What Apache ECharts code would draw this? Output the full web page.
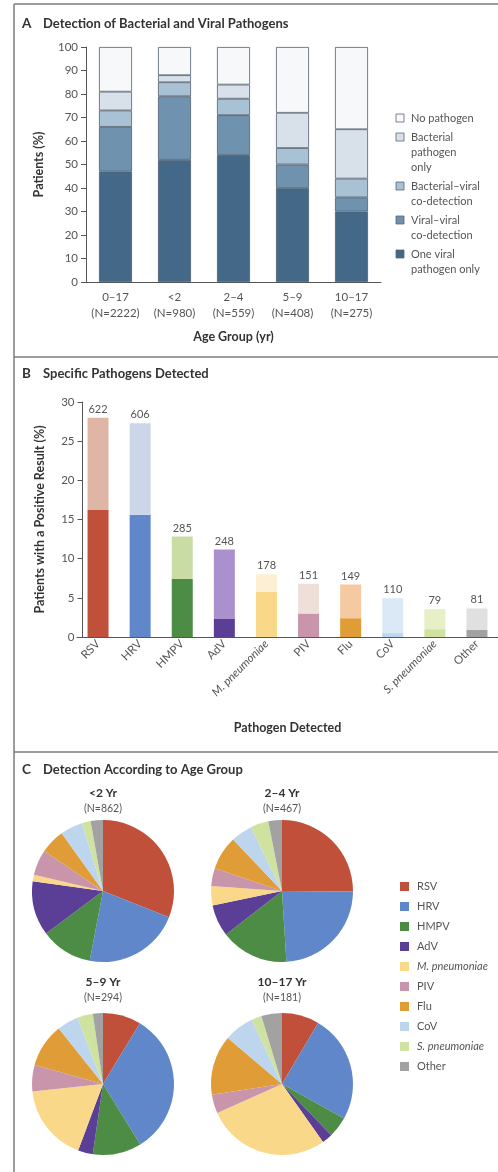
<!DOCTYPE html>
<html>
<head>
<meta charset="utf-8">
<script src="https://cdn.jsdelivr.net/npm/echarts@6/dist/echarts.min.js"></script>
<style>
  html, body { margin: 0; padding: 0; background: #ffffff; }
  #chart { width: 498px; height: 1172px; }
</style>
</head>
<body>
<div id="chart"></div>
<script>
// ---------- Panel A: detection outcome by age group (% of patients) ----------
const ageGroups = ['0–17\n(N=2222)', '<2\n(N=980)', '2–4\n(N=559)', '5–9\n(N=408)', '10–17\n(N=275)'];
const oneViral       = [47, 52, 54, 40, 30];
const viralViral     = [19, 27, 17, 10, 6];
const bacterialViral = [7, 6, 7, 7, 8];
const bacterialOnly  = [8, 3, 6, 15, 21];
const noPathogen     = [19, 12, 16, 28, 35];

const outcomeNames  = ['One viral pathogen only', 'Viral–viral co-detection', 'Bacterial–viral co-detection', 'Bacterial pathogen only', 'No pathogen'];
const outcomeLabels = ['One viral\npathogen only', 'Viral–viral\nco-detection', 'Bacterial–viral\nco-detection', 'Bacterial\npathogen\nonly', 'No pathogen'];
const outcomeValues = [oneViral, viralViral, bacterialViral, bacterialOnly, noPathogen];
const outcomeColors = ['#436888', '#6f92af', '#a9c1d5', '#d8e1ea', '#f6f8fa'];

// ---------- Panel B: specific pathogens detected ----------
const pathogens      = ['RSV', 'HRV', 'HMPV', 'AdV', 'M. pneumoniae', 'PIV', 'Flu', 'CoV', 'S. pneumoniae', 'Other'];
const positiveCounts = [622, 606, 285, 248, 178, 151, 149, 110, 79, 81];
const totalPatients  = 2222;
const singlePct      = [16.2, 15.6, 7.4, 2.3, 5.8, 3.0, 2.4, 0.5, 1.0, 0.9];
const italicNames    = ['M. pneumoniae', 'S. pneumoniae'];

const darkColors  = ['#c1503a', '#5f87c9', '#4c8c45', '#5b3e95', '#f9d88a', '#c995aa', '#e09c36', '#bdd6ee', '#cfe29f', '#a2a2a2'];
const lightColors = ['#dfb6a6', '#cbd7e8', '#c8dca3', '#aa91cd', '#fcefd3', '#eedfd9', '#f5caa2', '#dbe9f6', '#e6efc6', '#e0e0e0'];

// ---------- Panel C: share of detections by age group (%) ----------
const pieTitles  = ['<2 Yr', '2–4 Yr', '5–9 Yr', '10–17 Yr'];
const pieCounts  = ['(N=862)', '(N=467)', '(N=294)', '(N=181)'];
const shareUnder2 = [31.0, 22.0, 11.8, 12.4, 1.5, 5.8, 5.6, 5.1, 2.0, 2.8];
const share2to4   = [25.1, 23.9, 15.5, 7.2, 4.4, 4.1, 7.7, 4.9, 4.1, 3.1];
const share5to9   = [8.7, 32.5, 11.1, 3.4, 17.6, 6.0, 10.0, 4.8, 3.6, 2.3];
const share10to17 = [8.5, 24.6, 4.7, 2.4, 28.1, 4.3, 13.6, 6.8, 2.3, 4.7];
const pieShares = [shareUnder2, share2to4, share5to9, share10to17];

// ---------- layout & style ----------
const FONT = 'Lato';
const INK = '#333333';
const SOFT = '#555555';
const FRAME = '#7d7d7d';
const TICK_FS = 11.5;
const NAME_FS = 12.5;
const LEGEND_FS = 11;
const pieCenters = [[103, 891], [282, 891], [103, 1084], [282, 1084]];
const pieTitleTops = [787, 787, 976, 976];

const totalPct = positiveCounts.map(c => c / totalPatients * 100);
const restPct = totalPct.map((t, i) => t - singlePct[i]);

const italicFmt = name => italicNames.includes(name) ? '{i|' + name + '}' : name;

function panelTitle(letter, text, top) {
  return {
    left: 22, top: top, padding: 0,
    text: '{l|' + letter + '}{t|' + text + '}',
    textStyle: {
      rich: {
        l: { fontFamily: FONT, fontWeight: 'bold', fontSize: 13.5, color: INK, width: 21 },
        t: { fontFamily: FONT, fontWeight: 'bold', fontSize: 13, color: INK }
      }
    }
  };
}

const titles = [
  panelTitle('A', 'Detection of Bacterial and Viral Pathogens', 17),
  panelTitle('B', 'Specific Pathogens Detected', 367),
  panelTitle('C', 'Detection According to Age Group', 763)
];
pieTitles.forEach((t, i) => {
  titles.push({
    text: t, subtext: pieCounts[i],
    left: pieCenters[i][0], top: pieTitleTops[i], textAlign: 'center', itemGap: 4, padding: 0,
    textStyle: { fontFamily: FONT, fontWeight: 'bold', fontSize: 12, color: INK },
    subtextStyle: { fontFamily: FONT, fontSize: 10.5, color: SOFT }
  });
});

// panel frame
const graphics = [
  { type: 'line', shape: { x1: 14, y1: 4, x2: 14, y2: 1172 }, style: { stroke: FRAME, lineWidth: 1.5 } },
  { type: 'line', shape: { x1: 14, y1: 4, x2: 498, y2: 4 }, style: { stroke: FRAME, lineWidth: 1.5 } },
  { type: 'line', shape: { x1: 14, y1: 357, x2: 498, y2: 357 }, style: { stroke: FRAME, lineWidth: 1.5 } },
  { type: 'line', shape: { x1: 14, y1: 752, x2: 498, y2: 752 }, style: { stroke: FRAME, lineWidth: 1.5 } }
];

// legend for panel A: swatch aligned with the first line of each wrapped label
(function () {
  const lineH = 15;
  let cy = 118;
  for (let i = outcomeNames.length - 1; i >= 0; i--) {
    graphics.push({
      type: 'rect', shape: { x: 396, y: cy - 4, width: 8, height: 8 },
      style: { fill: outcomeColors[i], stroke: '#5a6672', lineWidth: 0.8 }
    });
    graphics.push({
      type: 'text', x: 411, y: cy - lineH / 2,
      style: { text: outcomeLabels[i], font: LEGEND_FS + 'px ' + FONT, fill: SOFT, lineHeight: lineH, verticalAlign: 'top' }
    });
    cy += outcomeLabels[i].split('\n').length * lineH + 4;
  }
})();

const series = [];
outcomeNames.forEach((name, k) => {
  series.push({
    name: name, type: 'bar', stack: 'outcome', xAxisIndex: 0, yAxisIndex: 0,
    barWidth: 33, data: outcomeValues[k],
    itemStyle: { color: outcomeColors[k], borderColor: '#52606d', borderWidth: 0.8 }
  });
});
series.push({
  name: 'Only pathogen detected', type: 'bar', stack: 'pathogen', xAxisIndex: 1, yAxisIndex: 1,
  barWidth: 21,
  data: singlePct.map((v, i) => ({ value: v, itemStyle: { color: darkColors[i] } }))
});
series.push({
  name: 'Detected with another pathogen', type: 'bar', stack: 'pathogen', xAxisIndex: 1, yAxisIndex: 1,
  barWidth: 21,
  data: restPct.map((v, i) => ({ value: v, itemStyle: { color: lightColors[i] } })),
  label: {
    show: true, position: 'top', distance: 3,
    formatter: p => String(positiveCounts[p.dataIndex]),
    fontFamily: FONT, fontSize: 11, color: SOFT
  }
});
pieShares.forEach((shares, g) => {
  series.push({
    name: pieTitles[g], type: 'pie',
    center: pieCenters[g], radius: 71, startAngle: 90, clockwise: true,
    label: { show: false }, labelLine: { show: false },
    emphasis: { disabled: true },
    data: shares.map((v, i) => ({ name: pathogens[i], value: v, itemStyle: { color: darkColors[i] } }))
  });
});

const axisLabelBase = { fontFamily: FONT, fontSize: TICK_FS, color: SOFT };
const axisNameBase = { fontFamily: FONT, fontWeight: 'bold', fontSize: NAME_FS, color: INK };

const option = {
  animation: false,
  backgroundColor: '#ffffff',
  title: titles,
  graphic: graphics,
  legend: {
    data: pathogens, orient: 'vertical', left: 395, top: 875,
    itemWidth: 9, itemHeight: 9, itemGap: 7, icon: 'rect',
    selectedMode: false,
    formatter: italicFmt,
    textStyle: {
      fontFamily: FONT, fontSize: LEGEND_FS, color: SOFT, lineHeight: 13, padding: [0, 0, 0, 3],
      rich: { i: { fontFamily: FONT, fontSize: LEGEND_FS, color: SOFT, fontStyle: 'italic' } }
    }
  },
  grid: [
    { left: 86, top: 47, width: 295, height: 235 },
    { left: 77, top: 402, width: 430, height: 235 }
  ],
  xAxis: [
    {
      gridIndex: 0, type: 'category', data: ageGroups,
      axisLine: { lineStyle: { color: SOFT, width: 1 } },
      axisTick: { alignWithLabel: true, length: 4, lineStyle: { color: SOFT } },
      axisLabel: Object.assign({ margin: 7, lineHeight: 16, interval: 0 }, axisLabelBase),
      name: 'Age Group (yr)', nameLocation: 'middle', nameGap: 48, nameTextStyle: axisNameBase
    },
    {
      gridIndex: 1, type: 'category', data: pathogens,
      axisLine: { lineStyle: { color: SOFT, width: 1 } },
      axisTick: { alignWithLabel: true, length: 3, lineStyle: { color: SOFT } },
      axisLabel: Object.assign({
        rotate: 45, margin: 5, interval: 0, formatter: italicFmt,
        rich: { i: { fontFamily: FONT, fontSize: TICK_FS, color: SOFT, fontStyle: 'italic' } }
      }, axisLabelBase),
      name: 'Pathogen Detected', nameLocation: 'middle', nameGap: 84, nameTextStyle: axisNameBase
    }
  ],
  yAxis: [
    {
      gridIndex: 0, type: 'value', min: 0, max: 100, interval: 10,
      axisLine: { show: true, lineStyle: { color: SOFT, width: 1 } },
      axisTick: { show: true, length: 5, lineStyle: { color: SOFT } },
      axisLabel: Object.assign({ margin: 8 }, axisLabelBase),
      splitLine: { show: false },
      name: 'Patients (%)', nameLocation: 'middle', nameGap: 41, nameTextStyle: axisNameBase
    },
    {
      gridIndex: 1, type: 'value', min: 0, max: 30, interval: 5, offset: -5.5,
      axisLine: { show: true, lineStyle: { color: SOFT, width: 1 } },
      axisTick: { show: true, length: 5, lineStyle: { color: SOFT } },
      axisLabel: Object.assign({ margin: 8 }, axisLabelBase),
      splitLine: { show: false },
      name: 'Patients with a Positive Result (%)', nameLocation: 'middle', nameGap: 36, nameTextStyle: axisNameBase
    }
  ],
  series: series
};

const chart = echarts.init(document.getElementById('chart'), null, { renderer: 'canvas' });
chart.setOption(option);
</script>
</body>
</html>
